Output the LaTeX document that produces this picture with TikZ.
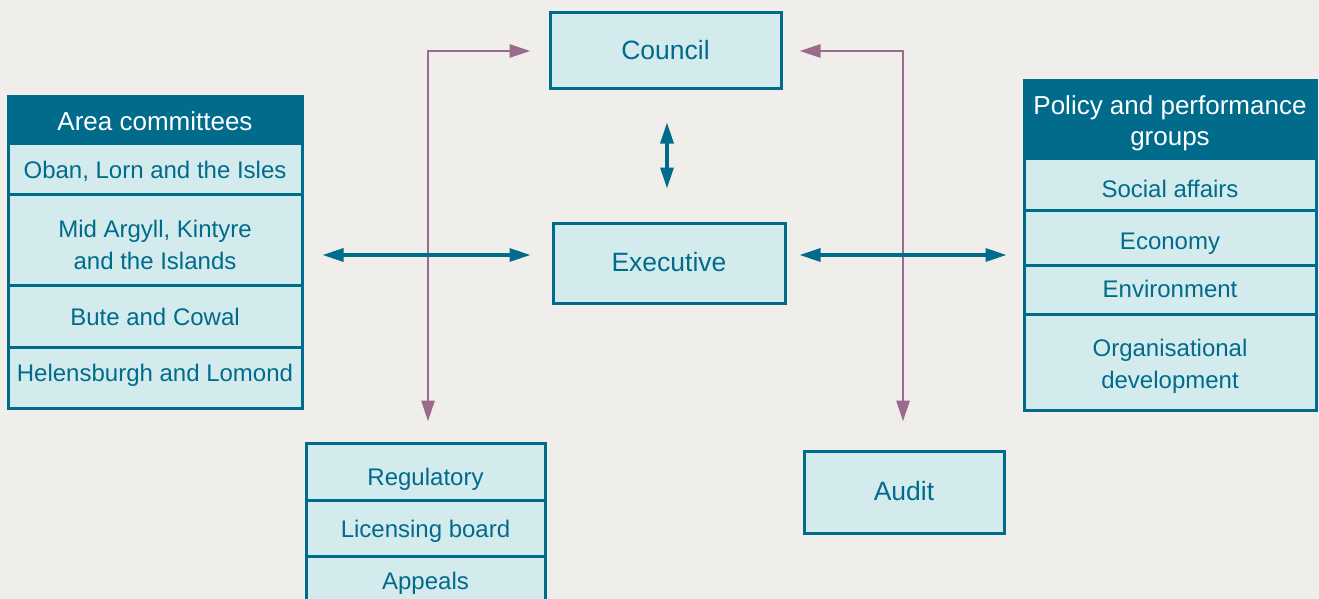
\documentclass[tikz,border=0pt]{standalone}
\usepackage{fontspec}
\setmainfont{Liberation Sans}
\usetikzlibrary{arrows.meta}
\definecolor{tealdark}{HTML}{006B8B}
\definecolor{lightfill}{HTML}{D4EBED}
\definecolor{bgc}{HTML}{EFEEEA}
\definecolor{purp}{HTML}{9C6B8C}
\tikzset{
  boxbase/.style={draw=tealdark, line width=3pt, inner sep=0pt, align=center, text=tealdark},
  itembox/.style={boxbase, fill=lightfill, font=\fontsize{24}{31.5}\selectfont},
  headbox/.style={boxbase, fill=tealdark, text=white, font=\fontsize{26}{31.5}\selectfont},
  mainbox/.style={boxbase, fill=lightfill, font=\fontsize{26.5}{31.5}\selectfont},
  bl/.style={text depth=6pt, text height=#1},
  tarrow/.style={draw=tealdark, line width=3.2pt,
    {Triangle[length=21pt,width=13pt]}-{Triangle[length=21pt,width=13pt]}},
  parrow/.style={draw=purp, line width=2.8pt,
    {Triangle[length=21pt,width=13pt]}-{Triangle[length=21pt,width=13pt]}}
}
\newcommand{\twolines}[2]{\begin{tabular}[b]{@{}c@{}}#1\\#2\end{tabular}}
\begin{document}
\begin{tikzpicture}[x=1pt,y=-1pt]
\fill[bgc] (0,0) rectangle (1319,599);
\useasboundingbox (0,0) rectangle (1319,599);

% Area committees
\node[itembox, bl=25.6pt, minimum width=294pt, minimum height=51pt] (oban) at (155,168.5) {Oban, Lorn and the Isles};
\node[itembox, bl=65pt, minimum width=294pt, minimum height=91pt] (midargyll) at (155,239.5) {\twolines{Mid Argyll, Kintyre}{and the Islands}};
\node[itembox, bl=24pt, minimum width=294pt, minimum height=62pt] (bute) at (155,316) {Bute and Cowal};
\node[itembox, bl=14.4pt, minimum width=294pt, minimum height=61pt] (helens) at (155,377.5) {Helensburgh and Lomond};
\node[headbox, bl=28pt, minimum width=294pt, minimum height=46pt] (areahead) at (155,120) {Area committees};

% Council and executive
\node[mainbox, bl=24pt, minimum width=231pt, minimum height=76pt] (council) at (665.5,51) {Council};
\node[mainbox, bl=23.4pt, minimum width=232pt, minimum height=80pt] (executive) at (669,263) {Executive};

% Policy and performance groups
\node[itembox, bl=33.4pt, minimum width=292pt, minimum height=52pt] (social) at (1170,184) {Social affairs};
\node[itembox, bl=29pt, minimum width=292pt, minimum height=55pt] (economy) at (1170,237.5) {Economy};
\node[itembox, bl=22.4pt, minimum width=292pt, minimum height=49pt] (environment) at (1170,289.5) {Environment};
\node[itembox, bl=58.6pt, minimum width=292pt, minimum height=96pt] (orgdev) at (1170,362) {\twolines{Organisational}{development}};
\node[headbox, bl=59pt, minimum width=292pt, minimum height=77pt] (policyhead) at (1170,119.5) {\twolines{Policy and performance}{groups}};

% Regulatory group
\node[itembox, bl=34.4pt, minimum width=239pt, minimum height=57pt] (regulatory) at (425.5,471.5) {Regulatory};
\node[itembox, bl=24.6pt, minimum width=239pt, minimum height=56pt] (licensing) at (425.5,528) {Licensing board};
\node[itembox, bl=16pt, minimum width=239pt, minimum height=56pt] (appeals) at (425.5,584) {Appeals};

% Audit
\node[mainbox, bl=22pt, minimum width=200pt, minimum height=82pt] (audit) at (904,492) {Audit};

% Purple connectors
\draw[parrow] ([xshift=2.5pt,yshift=20pt]regulatory.north) |- ([xshift=-18pt]council.west);
\draw[parrow] ([xshift=-1pt,yshift=28pt]audit.north) |- ([xshift=17pt]council.east);

% Teal connectors
\draw[tarrow, shorten <=32pt, shorten >=33pt] ([xshift=1.5pt]council.south) -- ([xshift=1.5pt]council.south |- executive.north);
\draw[tarrow, shorten <=21pt, shorten >=19pt] ([yshift=8pt]executive.west) -- ([yshift=8pt]executive.west -| midargyll.east);
\draw[tarrow, shorten <=13pt, shorten >=16pt] ([yshift=8pt]executive.east) -- ([yshift=8pt]executive.east -| economy.west);
\end{tikzpicture}
\end{document}
